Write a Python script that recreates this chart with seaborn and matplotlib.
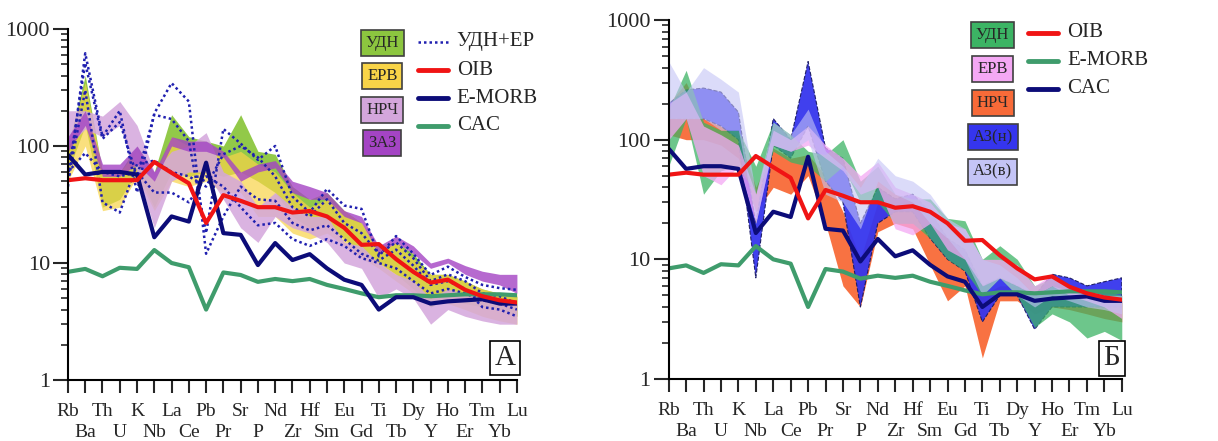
import numpy as np
import pandas as pd
import matplotlib
matplotlib.use("Agg")
import matplotlib.pyplot as plt
import seaborn as sns

# Elements (spider diagram order)
elements = ["Rb", "Ba", "Th", "U", "K", "Nb", "La", "Ce", "Pb", "Pr", "Sr", "P", "Nd", "Zr",
            "Hf", "Sm", "Eu", "Gd", "Ti", "Tb", "Dy", "Y", "Ho", "Er", "Tm", "Yb", "Lu"]

# Reference compositions
oib = [51, 53, 51, 51, 51, 73, 59, 48, 22, 38, 34, 30, 30, 27, 27.8, 25, 20, 14.3, 14.5,
       10.8, 8.4, 6.8, 7.2, 5.9, 5.2, 4.8, 4.6]
emorb = [84, 57, 60, 60, 57, 16.6, 25, 22.6, 72, 18, 17.4, 9.6, 14.8, 10.6, 11.9, 9.0, 7.2,
         6.5, 4.0, 5.1, 5.1, 4.5, 4.7, 4.8, 4.9, 4.5, 4.5]
cac = [8.4, 8.9, 7.7, 9.1, 8.9, 12.9, 10.0, 9.2, 4.0, 8.3, 7.9, 6.9, 7.3, 7.0, 7.3, 6.5, 6.0,
       5.5, 5.1, 5.3, 5.3, 5.2, 5.3, 5.4, 5.4, 5.4, 5.3]

# Panel A envelopes (low, high)
a_udn_lo = [60, 150, 30, 35, 60, 30, 60, 55, 60, 55, 60, 50, 40, 25, 20, 22, 16, 12, 10, 8, 6, 4.2, 5, 4.5, 4.2, 4, 3.5]
a_udn_hi = [100, 400, 60, 60, 100, 60, 185, 120, 110, 100, 185, 90, 85, 45, 35, 40, 28, 22, 12, 15, 12, 8, 8, 7, 6, 5.5, 5.2]
a_erv_lo = [50, 100, 28, 30, 55, 28, 50, 45, 50, 40, 40, 25, 25, 18, 16, 18, 14, 11, 9, 7, 5.5, 4.5, 4.5, 4, 3.5, 3.2, 3]
a_erv_hi = [100, 350, 60, 60, 90, 55, 120, 100, 90, 80, 90, 70, 60, 40, 30, 35, 28, 22, 14, 15, 11, 8, 8, 7, 6, 5.5, 5.5]
a_nrch_lo = [100, 140, 120, 150, 60, 20, 50, 60, 60, 35, 20, 15, 25, 20, 18, 15, 10, 9, 5, 6, 5, 3, 4, 3.5, 3.2, 3, 3]
a_nrch_hi = [200, 200, 180, 240, 150, 60, 90, 100, 130, 60, 50, 30, 40, 30, 25, 25, 15, 14, 10, 8, 7, 5, 6, 5.5, 5, 4.5, 4.5]
a_zaz_lo = [90, 150, 55, 55, 70, 50, 100, 90, 90, 80, 50, 60, 65, 40, 35, 35, 25, 22, 12, 15, 12, 9, 10, 8, 7, 6.5, 5.5]
a_zaz_hi = [120, 200, 70, 70, 100, 60, 120, 110, 110, 90, 60, 70, 75, 50, 45, 40, 28, 25, 14, 17, 14, 10, 11, 9.5, 8.5, 8, 8]

# Panel A dotted lines (УДН+ЕР)
dot1 = [45, 620, 120, 200, 40, 190, 345, 240, 12, 25, 45, 35, 34, 22, 19, 21, 16, 12, 10.5, 13, 9.5, 6.5, 7, 6, 4.2, 4.0, 3.5]
dot2 = [55, 510, 115, 160, 55, 185, 170, 110, 18, 140, 105, 76, 100, 37, 27, 43, 31, 29, 11.4, 17, 12, 7.9, 9.3, 7.6, 6.5, 6.1, 5.9]
dot3 = [60, 87, 60, 55, 60, 40, 40, 33, 55, 45, 30, 21, 22, 16, 14, 16, 14, 11, 10, 9, 7, 5.5, 6, 5.5, 4.8, 4.5, 4.0]
dot4 = [50, 300, 33, 27, 70, 75, 60, 55, 45, 85, 100, 80, 55, 30, 25, 35, 22, 18, 12, 15, 11, 7, 8, 7, 5.5, 5.2, 4.5]

# Panel Б envelopes (low, high)
b_udn_lo = [60, 150, 35, 55, 60, 35, 80, 65, 60, 45, 60, 30, 30, 20, 20, 15, 10, 8, 5, 7, 5, 2.7, 3.5, 3, 2.2, 2.5, 2.1]
b_udn_hi = [180, 380, 140, 120, 120, 60, 140, 110, 80, 75, 100, 45, 60, 35, 32, 32, 22, 21, 10, 13, 10, 6, 7, 6, 5.5, 5.5, 5]
b_erv_lo = [100, 150, 50, 42, 60, 20, 90, 80, 90, 70, 55, 35, 40, 18, 16, 20, 12, 10, 6, 7, 6, 5, 6, 5, 4.5, 4, 3.2]
b_erv_hi = [200, 250, 130, 110, 90, 35, 120, 100, 130, 90, 70, 50, 65, 40, 35, 30, 20, 18, 10, 10, 9, 6, 7.5, 6, 5.5, 5, 4.5]
b_nrch_lo = [110, 100, 100, 90, 70, 25, 40, 35, 50, 20, 6, 4, 17, 20, 18, 9, 4.5, 6, 1.5, 4.5, 4.5, 3.5, 4, 3.8, 3.5, 3.2, 3]
b_nrch_hi = [200, 300, 150, 130, 110, 40, 85, 70, 75, 50, 25, 10, 30, 28, 35, 22, 12, 10, 5, 6, 6, 5, 5.5, 5, 4.8, 4.5, 4.5]
b_azn_lo = [150, 150, 150, 130, 100, 7, 90, 70, 130, 45, 30, 4, 20, 25, 25, 15, 10, 8, 3, 5, 5, 2.6, 4, 4, 4, 4, 4]
b_azn_hi = [200, 260, 270, 250, 170, 20, 150, 100, 450, 85, 70, 20, 40, 32, 35, 25, 15, 12, 6, 7, 6, 5, 7.5, 7, 6, 6.5, 7]
b_azv_lo = [150, 150, 150, 120, 120, 20, 90, 80, 100, 35, 30, 18, 45, 35, 30, 20, 15, 10, 5, 7, 5, 4, 5, 4.5, 4, 3.8, 3.5]
b_azv_hi = [450, 250, 400, 320, 250, 35, 140, 110, 180, 80, 60, 40, 70, 50, 45, 35, 22, 18, 10, 9, 7, 5, 6, 5.5, 5, 5, 5]

x = np.arange(len(elements))
ref = pd.DataFrame({"x": x, "OIB": oib, "E-MORB": emorb, "CAC": cac})

sns.set_style("ticks")
plt.rcParams["font.family"] = ["Liberation Serif", "DejaVu Serif"]

RED = "#f01414"
NAVY = "#0c0c78"
GREEN = "#3f9c6c"

fig = plt.figure(figsize=(12.18, 4.41), dpi=100)
axA = fig.add_axes([0.0558, 0.1383, 0.3686, 0.796])
axB = fig.add_axes([0.549, 0.1406, 0.372, 0.814])


def style_axes(ax):
    ax.set_yscale("log")
    ax.set_xlim(0, len(elements) - 1)
    ax.set_ylim(1, 1000)
    # top row labels on even positions, bottom row on odd positions
    ax.set_xticks(x[0::2])
    ax.set_xticklabels(elements[0::2], fontsize=14)
    ax.set_xticks(x[1::2], minor=True)
    ax.set_xticklabels(elements[1::2], minor=True, fontsize=14)
    ax.set_yticks([1, 10, 100, 1000])
    ax.set_yticklabels(["1", "10", "100", "1000"], fontsize=16)
    ax.tick_params(axis="x", which="major", direction="out", length=9.5, width=1.5, pad=7)
    ax.tick_params(axis="x", which="minor", direction="out", length=9.5, width=1.5, pad=22)
    ax.tick_params(axis="y", which="major", direction="out", length=11, width=1.5, pad=2)
    ax.tick_params(axis="y", which="minor", direction="out", length=5, width=1.2)
    for s in ["top", "right"]:
        ax.spines[s].set_visible(False)
    for s in ["left", "bottom"]:
        ax.spines[s].set_linewidth(1.5)
        ax.spines[s].set_color("black")
    ax.set_xlabel("")
    ax.set_ylabel("")


def draw_refs(ax):
    sns.lineplot(data=ref, x="x", y="CAC", ax=ax, color=GREEN, lw=3)
    sns.lineplot(data=ref, x="x", y="E-MORB", ax=ax, color=NAVY, lw=3)
    sns.lineplot(data=ref, x="x", y="OIB", ax=ax, color=RED, lw=3)


def box_label(ax, xx, yy, text, color):
    ax.text(xx, yy, text, transform=ax.transAxes, ha="center", va="center", fontsize=12,
            bbox=dict(boxstyle="square,pad=0.3", fc=color, ec="#404040", lw=1.2))


def line_label(ax, x0, x1, yy, text, color, ls="-", lw=3.5):
    ax.plot([x0, x1], [yy, yy], transform=ax.transAxes, color=color, ls=ls, lw=lw,
            solid_capstyle="round")
    ax.text(x1 + 0.02, yy, text, transform=ax.transAxes, ha="left", va="center", fontsize=15)


# ---------------- Panel A ----------------
A_UDN = "#8cc63f"
A_ERV = "#f8d448"
A_NRCH = "#d4a6dc"
A_ZAZ = "#a444c4"

axA.fill_between(x, a_udn_lo, a_udn_hi, color=A_UDN, alpha=0.95, lw=0)
axA.fill_between(x, a_erv_lo, a_erv_hi, color=A_ERV, alpha=0.7, lw=0)
axA.fill_between(x, a_nrch_lo, a_nrch_hi, color=A_NRCH, alpha=0.85, lw=0)
axA.fill_between(x, a_zaz_lo, a_zaz_hi, color=A_ZAZ, alpha=0.8, lw=0)
for d in [dot1, dot2, dot3, dot4]:
    sns.lineplot(x=x, y=d, ax=axA, color="#2020b0", lw=1.8, ls=(0, (1, 1.2)))
draw_refs(axA)
style_axes(axA)

for yy, t, c in zip([0.96, 0.866, 0.769, 0.675], ["УДН", "ЕРВ", "НРЧ", "ЗАЗ"],
                    [A_UDN, A_ERV, A_NRCH, A_ZAZ]):
    box_label(axA, 0.70, yy, t, c)
line_label(axA, 0.78, 0.846, 0.963, "УДН+ЕР", "#2020b0", ls=(0, (1, 1.2)), lw=1.8)
line_label(axA, 0.78, 0.846, 0.883, "OIB", RED)
line_label(axA, 0.78, 0.846, 0.803, "E-MORB", NAVY)
line_label(axA, 0.78, 0.846, 0.724, "CAC", GREEN)
axA.text(0.973, 0.063, "А", transform=axA.transAxes, ha="center", va="center", fontsize=21,
         bbox=dict(boxstyle="square,pad=0.15", fc="white", ec="black", lw=1.2))

# ---------------- Panel Б ----------------
B_UDN = "#3cb464"
B_ERV = "#f4a8f4"
B_NRCH = "#f86a38"
B_AZN = "#3535ee"
B_AZV = "#c4c4f6"

axB.fill_between(x, b_nrch_lo, b_nrch_hi, color=B_NRCH, alpha=0.95, lw=0)
axB.fill_between(x, b_azn_lo, b_azn_hi, facecolor=B_AZN, alpha=0.95, edgecolor="#1a1a60",
                 lw=0.8, ls="--")
axB.fill_between(x, b_udn_lo, b_udn_hi, color=B_UDN, alpha=0.75, lw=0)
axB.fill_between(x, b_erv_lo, b_erv_hi, color=B_ERV, alpha=0.75, lw=0)
axB.fill_between(x, b_azv_lo, b_azv_hi, color=B_AZV, alpha=0.6, lw=0)
draw_refs(axB)
style_axes(axB)

for yy, t, c in zip([0.958, 0.864, 0.769, 0.674, 0.577], ["УДН", "ЕРВ", "НРЧ", "АЗ(н)", "АЗ(в)"],
                    [B_UDN, B_ERV, B_NRCH, B_AZN, B_AZV]):
    box_label(axB, 0.715, yy, t, c)
line_label(axB, 0.793, 0.859, 0.964, "OIB", RED)
line_label(axB, 0.793, 0.859, 0.886, "E-MORB", GREEN)
line_label(axB, 0.793, 0.859, 0.808, "CAC", NAVY)
axB.text(0.978, 0.058, "Б", transform=axB.transAxes, ha="center", va="center", fontsize=21,
         bbox=dict(boxstyle="square,pad=0.15", fc="white", ec="black", lw=1.2))

fig.savefig("out.png", dpi=100)
